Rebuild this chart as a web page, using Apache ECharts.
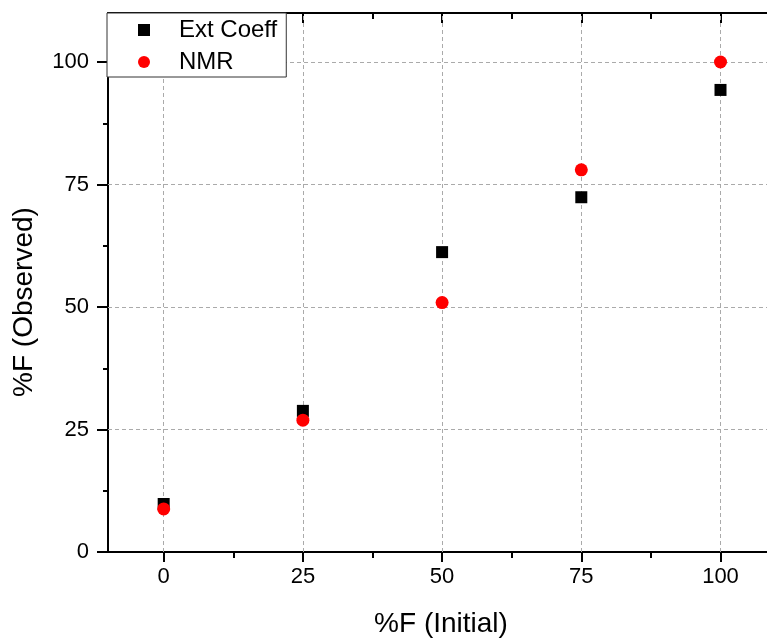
<!DOCTYPE html>
<html>
<head>
<meta charset="utf-8">
<script src="https://cdn.jsdelivr.net/npm/echarts@6/dist/echarts.min.js"></script>
<style>
html,body{margin:0;padding:0;background:#fff;}
#chart{width:767px;height:640px;}
</style>
</head>
<body>
<div id="chart"></div>
<script>
// ---- data ----
var xValues = [0, 25, 50, 75, 100];
var extCoeff = [9.8, 28.8, 61.2, 72.4, 94.3];
var nmr = [8.8, 26.9, 50.9, 78.0, 100.0];
var seriesNames = ['Ext Coeff', 'NMR'];
var xMajorTicks = [0, 25, 50, 75, 100];
var xMinorTicks = [12.5, 37.5, 62.5, 87.5];
var yMajorTicks = [0, 25, 50, 75, 100];
var yMinorTicks = [12.5, 37.5, 62.5, 87.5];
var xTitle = '%F (Initial)';
var yTitle = '%F (Observed)';

var FONT = '"Liberation Sans", Arial, sans-serif';
var chart = echarts.init(document.getElementById('chart'), null, {renderer: 'canvas'});

function pairs(xs, ys) { return xs.map(function (x, i) { return [x, ys[i]]; }); }

var gridMarks = xMajorTicks.map(function (v) { return {xAxis: v}; })
  .concat(yMajorTicks.filter(function (v) { return v > 0; }).map(function (v) { return {yAxis: v}; }));

var X_MIN = -10, X_MAX = 108.35;

function xAx(pos, ticks, len, inside, showLine, showLabel) {
  return {
    type: 'value', position: pos, min: X_MIN, max: X_MAX,
    axisLine: {show: showLine, onZero: false, lineStyle: {color: '#000', width: 2}},
    axisTick: {show: true, inside: inside, length: len, customValues: ticks, lineStyle: {color: '#000', width: 2}},
    axisLabel: {show: showLabel, customValues: ticks, fontSize: 22, color: '#000', fontFamily: FONT, margin: 14},
    splitLine: {show: false}
  };
}
function yAx(ticks, len, showLine, showLabel) {
  return {
    type: 'value', position: 'left', min: 0, max: 110,
    axisLine: {show: showLine, onZero: false, lineStyle: {color: '#000', width: 2}},
    axisTick: {show: true, inside: false, length: len, customValues: ticks, lineStyle: {color: '#000', width: 2}},
    axisLabel: {show: showLabel, customValues: ticks, fontSize: 22, color: '#000', fontFamily: FONT, margin: 19},
    splitLine: {show: false}
  };
}

chart.setOption({
  animation: false,
  backgroundColor: '#fff',
  grid: {left: 108, top: 13, right: 0, height: 539, containLabel: false},
  xAxis: [
    xAx('bottom', xMajorTicks, 10, false, true, true),
    xAx('bottom', xMinorTicks, 6, false, false, false),
    xAx('top', xMajorTicks, 10, true, true, false),
    xAx('top', xMinorTicks, 6, true, false, false)
  ],
  yAxis: [
    yAx(yMajorTicks, 11, true, true),
    yAx(yMinorTicks, 5, false, false)
  ],
  legend: {
    show: true, orient: 'vertical', left: 107, top: 13,
    borderColor: '#333', borderWidth: 1, backgroundColor: '#fff',
    padding: [5, 9, 3, 31], itemWidth: 12, itemHeight: 12, itemGap: 8,
    textStyle: {fontSize: 24, lineHeight: 24, color: '#000', fontFamily: FONT, padding: [0, 0, 0, 24]},
    data: [{name: seriesNames[0], icon: 'rect'}, {name: seriesNames[1], icon: 'circle'}],
    z: 10
  },
  series: [
    {
      name: seriesNames[0], type: 'scatter', xAxisIndex: 0, yAxisIndex: 0, z: 3,
      symbol: 'rect', symbolSize: 12, itemStyle: {color: '#000', opacity: 1},
      data: pairs(xValues, extCoeff),
      markLine: {
        silent: true, symbol: 'none', z: 1, animation: false,
        label: {show: false},
        lineStyle: {type: [4, 3], color: '#aaa', width: 1},
        emphasis: {disabled: true},
        data: gridMarks
      }
    },
    {
      name: seriesNames[1], type: 'scatter', xAxisIndex: 0, yAxisIndex: 0, z: 4,
      symbol: 'circle', symbolSize: 13, itemStyle: {color: '#ff0000', opacity: 1},
      data: pairs(xValues, nmr)
    }
  ],
  graphic: [
    {type: 'text', x: 441, y: 624, style: {text: xTitle, font: '28px ' + FONT, fill: '#000', align: 'center', verticalAlign: 'middle'}},
    {type: 'text', x: 24, y: 302, rotation: Math.PI / 2, style: {text: yTitle, font: '28px ' + FONT, fill: '#000', align: 'center', verticalAlign: 'middle'}}
  ]
});
</script>
</body>
</html>
